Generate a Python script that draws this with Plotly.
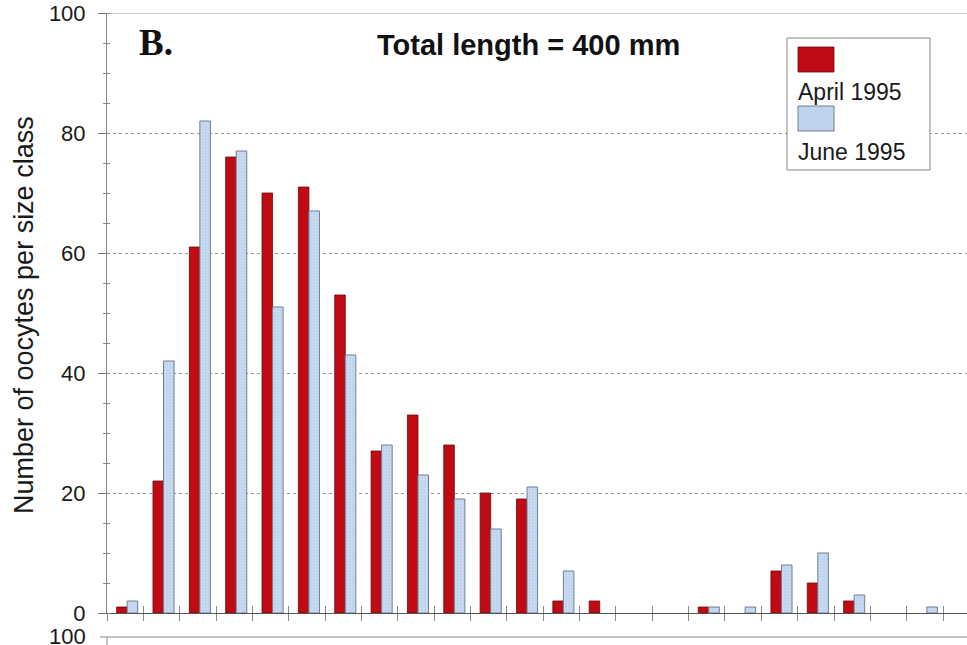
import plotly.graph_objects as go

# Oocyte counts per size class for a 400 mm fish
size_class = list(range(24))
april_1995 = [1, 22, 61, 76, 70, 71, 53, 27, 33, 28, 20, 19, 2, 2, 0, 0, 1, 0, 7, 5, 2, 0, 0, 0]
june_1995 = [2, 42, 82, 77, 51, 67, 43, 28, 23, 19, 14, 21, 7, 0, 0, 0, 1, 1, 8, 10, 3, 0, 1, 0]
y_ticks = [0, 20, 40, 60, 80, 100]

W, H = 967, 645
ML, MR, MT, MB = 107, 0, 13, 32
PW, PH = W - ML - MR, H - MT - MB
CAT_W = 36.35  # pixels per size class
x_end = -0.5 + PW / CAT_W

BAR_W = 0.29
SHIFT = 0.055

RED = "#C00A14"
BLUE = "#BCD2ED"
FONT = "Arial, Liberation Sans, sans-serif"


def px(xp):
    return (xp - ML) / PW


def py(yp):
    return (H - MB - yp) / PH


def nonzero(vals):
    # empty classes get no bar at all
    return [v if v else None for v in vals]


fig = go.Figure()
fig.add_trace(go.Bar(
    x=size_class, y=nonzero(april_1995), name="April 1995",
    width=BAR_W, offset=-BAR_W + SHIFT,
    marker=dict(color=RED, line=dict(color="#6A0A0A", width=0.8)),
    showlegend=False,
))
fig.add_trace(go.Bar(
    x=size_class, y=nonzero(june_1995), name="June 1995",
    width=BAR_W, offset=SHIFT,
    marker=dict(color=BLUE, line=dict(color="#6F7F92", width=1),
                pattern=dict(shape=".", fgcolor="#E6EEF9", bgcolor=BLUE,
                             size=3, solidity=0.35)),
    showlegend=False,
))

boundaries = [k - 0.5 for k in range(25) if k - 0.5 <= x_end]

fig.update_layout(
    width=W, height=H,
    margin=dict(l=ML, r=MR, t=MT, b=MB),
    paper_bgcolor="white", plot_bgcolor="white",
    barmode="overlay",
    font=dict(family=FONT, color="#1a1a1a"),
    xaxis=dict(
        range=[-0.5, x_end], tickmode="array", tickvals=boundaries,
        showticklabels=False, ticks="outside", ticklen=7, tickwidth=1.2,
        tickcolor="#8a8a8a", showgrid=False, zeroline=False,
        showline=True, linecolor="#555", linewidth=1.2,
    ),
    xaxis2=dict(
        range=[-0.5, x_end], overlaying="x", anchor="y", side="bottom",
        tickmode="array", tickvals=boundaries, showticklabels=False,
        ticks="inside", ticklen=7, tickwidth=1.2, tickcolor="#8a8a8a",
        showgrid=False, zeroline=False, showline=False,
    ),
    yaxis=dict(
        range=[0, 100], tickmode="array", tickvals=y_ticks,
        ticks="outside", ticklen=8, tickcolor="#777", tickwidth=1,
        ticklabelstandoff=8,
        tickfont=dict(size=22, family=FONT, color="#1a1a1a"),
        showgrid=True, gridcolor="#9a9a9a", griddash="dot", gridwidth=1,
        zeroline=False, showline=True, linecolor="#888", linewidth=1,
        minor=dict(dtick=5, ticks="outside", ticklen=3, tickcolor="#888",
                   showgrid=False),
    ),
    yaxis2=dict(
        range=[0, 100], overlaying="y", anchor="x", side="left",
        tickmode="array", tickvals=y_ticks, showticklabels=False,
        ticks="", showgrid=False, zeroline=False, showline=False,
        minor=dict(dtick=5, ticks="inside", ticklen=3, tickcolor="#888",
                   showgrid=False),
    ),
)

# Invisible trace so the overlay axes are drawn
fig.add_trace(go.Scatter(x=[None], y=[None], xaxis="x2", yaxis="y2",
                         showlegend=False, hoverinfo="skip"))

shapes = [
    # frame line at the top of the panel
    dict(type="line", xref="paper", yref="y", x0=0, x1=1, y0=100, y1=100,
         line=dict(color="#9a9a9a", width=1)),
    # top edge of the next panel below
    dict(type="line", xref="paper", yref="paper", x0=px(100), x1=1,
         y0=py(637), y1=py(637), line=dict(color="#8a8a8a", width=1)),
    dict(type="line", xref="paper", yref="paper", x0=0, x1=0,
         y0=py(637), y1=py(650), line=dict(color="#8a8a8a", width=1)),
    # legend box and swatches
    dict(type="rect", xref="paper", yref="paper", x0=px(787), x1=px(930),
         y0=py(170), y1=py(38), line=dict(color="#888", width=1),
         fillcolor="white"),
    dict(type="rect", xref="paper", yref="paper", x0=px(798), x1=px(834),
         y0=py(72), y1=py(47), line=dict(color="#6A0A0A", width=0.8),
         fillcolor=RED),
    dict(type="rect", xref="paper", yref="paper", x0=px(798), x1=px(834),
         y0=py(131), y1=py(106), line=dict(color="#6F7F92", width=1),
         fillcolor=BLUE),
]
fig.update_layout(shapes=shapes)

annotations = [
    dict(text="<b>Total length = 400 mm</b>", xref="paper", yref="paper",
         x=px(528), y=py(45), xanchor="center", yanchor="middle",
         showarrow=False, font=dict(size=29, family=FONT, color="#111")),
    dict(text="<b>B.</b>", xref="paper", yref="paper", x=px(137), y=py(42),
         xanchor="left", yanchor="middle", showarrow=False,
         font=dict(size=37, family="Liberation Serif, Times New Roman, serif",
                   color="#111")),
    dict(text="April 1995", xref="paper", yref="paper", x=px(796), y=py(92),
         xanchor="left", yanchor="middle", showarrow=False,
         font=dict(size=23, family=FONT, color="#1a1a1a")),
    dict(text="June 1995", xref="paper", yref="paper", x=px(796), y=py(152),
         xanchor="left", yanchor="middle", showarrow=False,
         font=dict(size=23, family=FONT, color="#1a1a1a")),
    dict(text="Number of oocytes per size class", xref="paper", yref="paper",
         x=px(24), y=py(315), xanchor="center", yanchor="middle",
         textangle=-90, showarrow=False,
         font=dict(size=27, family=FONT, color="#1a1a1a")),
    dict(text="100", xref="paper", yref="paper", x=px(88), y=py(622),
         xanchor="right", yanchor="top", showarrow=False,
         font=dict(size=22, family=FONT, color="#1a1a1a")),
]
fig.update_layout(annotations=annotations)

fig.write_html("out.html")
